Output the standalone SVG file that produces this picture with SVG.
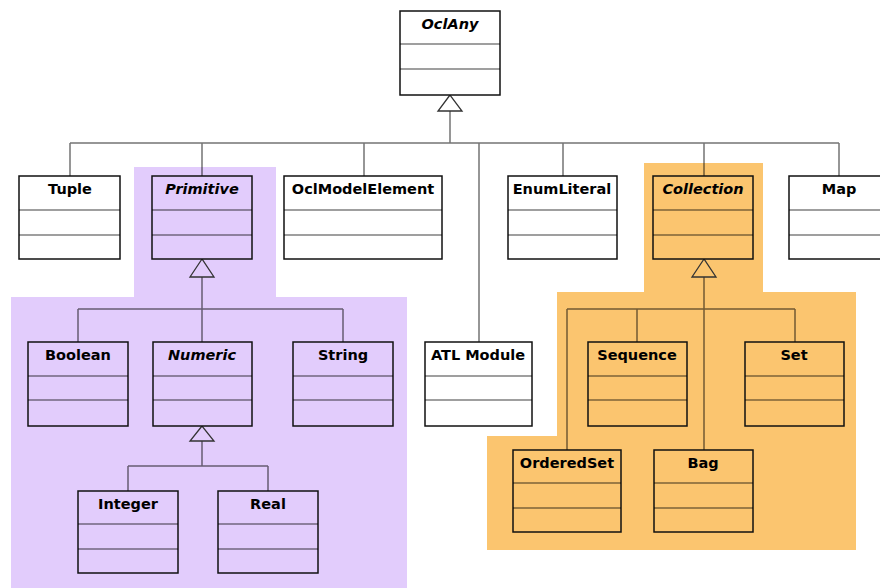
<svg xmlns="http://www.w3.org/2000/svg" width="880" height="588" viewBox="0 0 880 588">
  <style>
    .box { fill: #ffffff; stroke: #111; stroke-width: 1.5; }
    .box.p { fill: #e2ccfc; }
    .box.o { fill: #fbc56f; }
    .div { stroke: #000; stroke-opacity: 0.75; stroke-width: 1.2; fill: none; }
    .conn { stroke: #000; stroke-opacity: 0.55; stroke-width: 1.5; fill: none; }
    .tri { fill: #ffffff; stroke: #333; stroke-width: 1.3; }
    .tri.p { fill: #e2ccfc; }
    .tri.o { fill: #fbc56f; }
    text { font-family: "DejaVu Sans", Verdana, sans-serif; font-weight: bold; font-size: 14.5px; text-anchor: middle; fill: #000; }
    .abs { font-style: italic; }
  </style>

  <rect width="880" height="588" fill="#ffffff"/>

  <!-- package backgrounds -->
  <path d="M134 167 H276 V297 H407 V588 H11 V297 H134 Z" fill="#e2ccfc"/>
  <path d="M644 163 H763 V292 H856 V550 H487 V436 H557 V292 H644 Z" fill="#fbc56f"/>

  <!-- generalization connectors -->
  <g id="connectors">
    <path class="conn" d="M450 111 V143 M70 143 H839 M70 143 V176 M202 143 V176 M364 143 V176 M479 143 V342 M563 143 V176 M704 143 V176 M839 143 V176"/>
    <path class="conn" d="M202 277 V309 M78 309 H343 M78 309 V342 M202 309 V342 M343 309 V342"/>
    <path class="conn" d="M202 441 V466 M128 466 H268 M128 466 V491 M268 466 V491"/>
    <path class="conn" d="M704 277 V450 M567 309 H795 M567 309 V450 M637 309 V342 M795 309 V342"/>
    <polygon class="tri" points="450,95 438,111 462,111"/>
    <polygon class="tri p" points="202,259 190,277 214,277"/>
    <polygon class="tri p" points="202,426 190,441 214,441"/>
    <polygon class="tri o" points="704,259 692,277 716,277"/>
  </g>

  <g id="OclAny">
    <rect class="box" x="400" y="11" width="100" height="84"/>
    <path class="div" d="M400 44 H500 M400 69 H500"/>
    <text class="abs" x="450" y="29">OclAny</text>
  </g>

  <g id="Tuple">
    <rect class="box" x="19" y="176" width="101" height="83"/>
    <path class="div" d="M19 210 H120 M19 235 H120"/>
    <text x="70" y="194">Tuple</text>
  </g>

  <g id="Primitive">
    <rect class="box p" x="152" y="176" width="100" height="83"/>
    <path class="div" d="M152 210 H252 M152 235 H252"/>
    <text class="abs" x="202" y="194">Primitive</text>
  </g>

  <g id="OclModelElement">
    <rect class="box" x="284" y="176" width="158" height="83"/>
    <path class="div" d="M284 210 H442 M284 235 H442"/>
    <text x="363" y="194">OclModelElement</text>
  </g>

  <g id="EnumLiteral">
    <rect class="box" x="508" y="176" width="109" height="83"/>
    <path class="div" d="M508 210 H617 M508 235 H617"/>
    <text x="562" y="194">EnumLiteral</text>
  </g>

  <g id="Collection">
    <rect class="box o" x="653" y="176" width="100" height="83"/>
    <path class="div" d="M653 210 H753 M653 235 H753"/>
    <text class="abs" x="703" y="194">Collection</text>
  </g>

  <g id="Map">
    <rect class="box" x="789" y="176" width="100" height="83"/>
    <path class="div" d="M789 210 H889 M789 235 H889"/>
    <text x="839" y="194">Map</text>
  </g>

  <g id="Boolean">
    <rect class="box p" x="28" y="342" width="100" height="84"/>
    <path class="div" d="M28 376 H128 M28 400 H128"/>
    <text x="78" y="360">Boolean</text>
  </g>

  <g id="Numeric">
    <rect class="box p" x="153" y="342" width="99" height="84"/>
    <path class="div" d="M153 376 H252 M153 400 H252"/>
    <text class="abs" x="202" y="360">Numeric</text>
  </g>

  <g id="String">
    <rect class="box p" x="293" y="342" width="100" height="84"/>
    <path class="div" d="M293 376 H393 M293 400 H393"/>
    <text x="343" y="360">String</text>
  </g>

  <g id="Integer">
    <rect class="box p" x="78" y="491" width="100" height="82"/>
    <path class="div" d="M78 524 H178 M78 549 H178"/>
    <text x="128" y="509">Integer</text>
  </g>

  <g id="Real">
    <rect class="box p" x="218" y="491" width="100" height="82"/>
    <path class="div" d="M218 524 H318 M218 549 H318"/>
    <text x="268" y="509">Real</text>
  </g>

  <g id="ATLModule">
    <rect class="box" x="425" y="342" width="107" height="84"/>
    <path class="div" d="M425 376 H532 M425 400 H532"/>
    <text x="478" y="360">ATL Module</text>
  </g>

  <g id="Sequence">
    <rect class="box o" x="588" y="342" width="99" height="84"/>
    <path class="div" d="M588 376 H687 M588 400 H687"/>
    <text x="637" y="360">Sequence</text>
  </g>

  <g id="Set">
    <rect class="box o" x="745" y="342" width="99" height="84"/>
    <path class="div" d="M745 376 H844 M745 400 H844"/>
    <text x="794" y="360">Set</text>
  </g>

  <g id="OrderedSet">
    <rect class="box o" x="513" y="450" width="108" height="82"/>
    <path class="div" d="M513 483 H621 M513 508 H621"/>
    <text x="567" y="468">OrderedSet</text>
  </g>

  <g id="Bag">
    <rect class="box o" x="654" y="450" width="99" height="82"/>
    <path class="div" d="M654 483 H753 M654 508 H753"/>
    <text x="703" y="468">Bag</text>
  </g>
</svg>
